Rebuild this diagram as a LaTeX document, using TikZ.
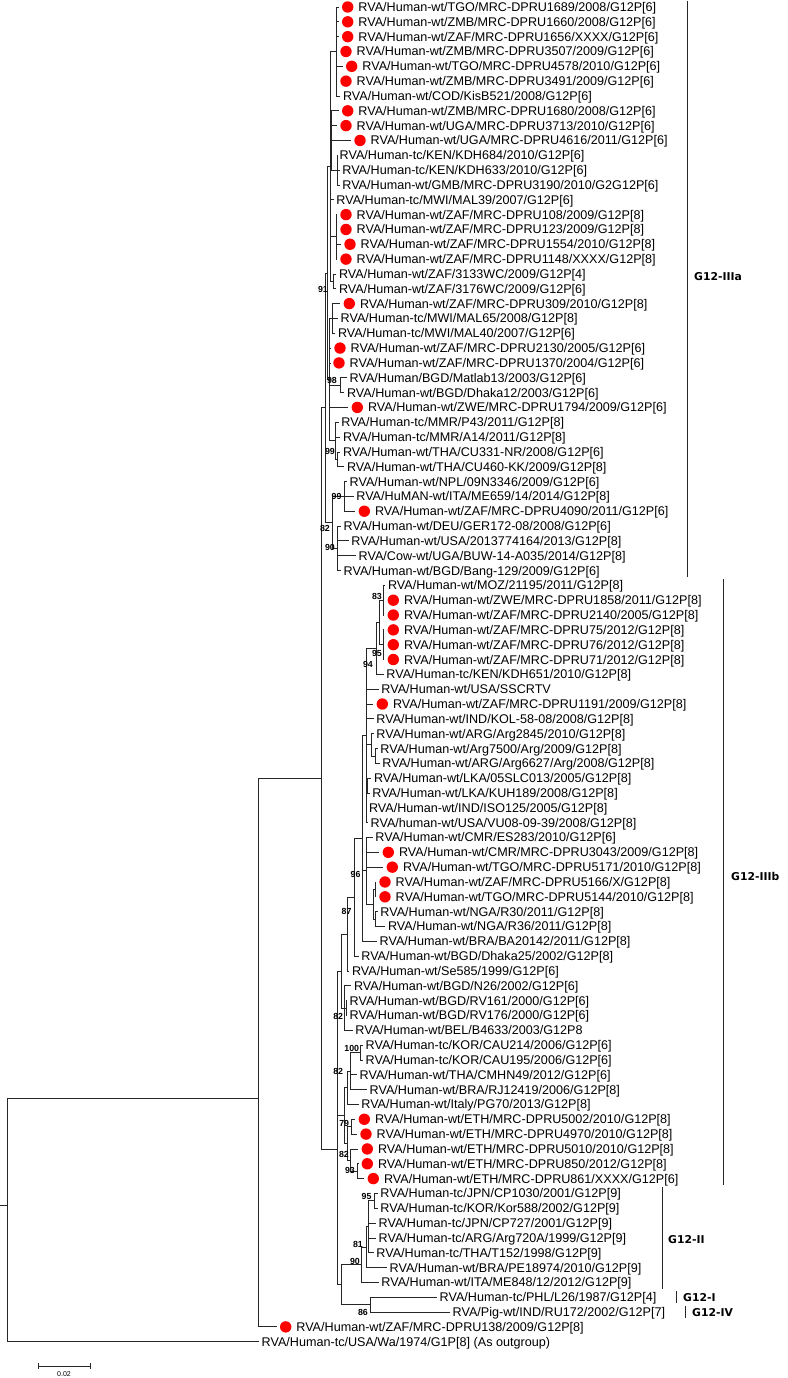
\documentclass[tikz,border=0pt]{standalone}
\usepackage{fontspec}
\newfontfamily\lsans{Liberation Sans}
\newfontfamily\dvsans{DejaVu Sans}
\newcommand\Lf[3]{\coordinate (l#1) at (#2,#1); \node[leaf] (t#1) at ([xshift=2.5pt]l#1) {#3};}
\newcommand\Ld[3]{\coordinate (l#1) at (#2,#1); \node[rdot] (d#1) at ([xshift=9pt]l#1) {}; \node[leaf] (t#1) at ([xshift=19.5pt]l#1) {#3};}
\newcommand\Br[2]{\foreach \ch in {#2}{\draw[br] (#1) |- (\ch);}}
\newcommand\Bt[4]{\node[boot] (#1) at (#2,#3) {#4};}
\begin{document}
\begin{tikzpicture}[x=1pt,y=-14.83pt,
  br/.style={line width=0.8pt,black!85},
  leaf/.style={anchor=base west,inner sep=0pt,yshift=-4.5pt,font=\fontsize{12.6}{14}\selectfont\lsans},
  rdot/.style={circle,fill=red,inner sep=0pt,minimum size=11.4pt},
  boot/.style={anchor=east,inner sep=0pt,font=\fontsize{8.8}{10}\selectfont\lsans\bfseries},
  clade/.style={anchor=west,inner sep=0pt,font=\fontsize{10.8}{12}\selectfont\dvsans\bfseries},
  cbar/.style={line width=0.9pt,black!85}]
\fill[white] (0,0.528) rectangle (787,93.447);
\useasboundingbox (0,0.528) rectangle (787,93.447);
% leaves
\Ld{1}{338.7}{RVA/Human-wt/TGO/MRC-DPRU1689/2008/G12P[6]}
\Ld{2}{338.7}{RVA/Human-wt/ZMB/MRC-DPRU1660/2008/G12P[6]}
\Ld{3}{338.7}{RVA/Human-wt/ZAF/MRC-DPRU1656/XXXX/G12P[6]}
\Ld{4}{337}{RVA/Human-wt/ZMB/MRC-DPRU3507/2009/G12P[6]}
\Ld{5}{342.7}{RVA/Human-wt/TGO/MRC-DPRU4578/2010/G12P[6]}
\Ld{6}{337}{RVA/Human-wt/ZMB/MRC-DPRU3491/2009/G12P[6]}
\Lf{7}{340.3}{RVA/Human-wt/COD/KisB521/2008/G12P[6]}
\Ld{8}{338.7}{RVA/Human-wt/ZMB/MRC-DPRU1680/2008/G12P[6]}
\Ld{9}{337}{RVA/Human-wt/UGA/MRC-DPRU3713/2010/G12P[6]}
\Ld{10}{351}{RVA/Human-wt/UGA/MRC-DPRU4616/2011/G12P[6]}
\Lf{11}{337}{RVA/Human-tc/KEN/KDH684/2010/G12P[6]}
\Lf{12}{339.7}{RVA/Human-tc/KEN/KDH633/2010/G12P[6]}
\Lf{13}{339.7}{RVA/Human-wt/GMB/MRC-DPRU3190/2010/G2G12P[6]}
\Lf{14}{333.7}{RVA/Human-tc/MWI/MAL39/2007/G12P[6]}
\Ld{15}{337}{RVA/Human-wt/ZAF/MRC-DPRU108/2009/G12P[8]}
\Ld{16}{337}{RVA/Human-wt/ZAF/MRC-DPRU123/2009/G12P[8]}
\Ld{17}{341}{RVA/Human-wt/ZAF/MRC-DPRU1554/2010/G12P[8]}
\Ld{18}{337}{RVA/Human-wt/ZAF/MRC-DPRU1148/XXXX/G12P[8]}
\Lf{19}{336.3}{RVA/Human-wt/ZAF/3133WC/2009/G12P[4]}
\Lf{20}{336.3}{RVA/Human-wt/ZAF/3176WC/2009/G12P[6]}
\Ld{21}{340.3}{RVA/Human-wt/ZAF/MRC-DPRU309/2010/G12P[8]}
\Lf{22}{338}{RVA/Human-tc/MWI/MAL65/2008/G12P[8]}
\Lf{23}{335.3}{RVA/Human-tc/MWI/MAL40/2007/G12P[6]}
\Ld{24}{331}{RVA/Human-wt/ZAF/MRC-DPRU2130/2005/G12P[6]}
\Ld{25}{330}{RVA/Human-wt/ZAF/MRC-DPRU1370/2004/G12P[6]}
\Lf{26}{347}{RVA/Human/BGD/Matlab13/2003/G12P[6]}
\Lf{27}{344.3}{RVA/Human-wt/BGD/Dhaka12/2003/G12P[6]}
\Ld{28}{348.3}{RVA/Human-wt/ZWE/MRC-DPRU1794/2009/G12P[6]}
\Lf{29}{338.7}{RVA/Human-tc/MMR/P43/2011/G12P[8]}
\Lf{30}{340.3}{RVA/Human-tc/MMR/A14/2011/G12P[8]}
\Lf{31}{340.3}{RVA/Human-wt/THA/CU331-NR/2008/G12P[6]}
\Lf{32}{344.3}{RVA/Human-wt/THA/CU460-KK/2009/G12P[8]}
\Lf{33}{347}{RVA/Human-wt/NPL/09N3346/2009/G12P[6]}
\Lf{34}{353.7}{RVA/HuMAN-wt/ITA/ME659/14/2014/G12P[8]}
\Ld{35}{355.3}{RVA/Human-wt/ZAF/MRC-DPRU4090/2011/G12P[6]}
\Lf{36}{341}{RVA/Human-wt/DEU/GER172-08/2008/G12P[6]}
\Lf{37}{348.7}{RVA/Human-wt/USA/2013774164/2013/G12P[8]}
\Lf{38}{356}{RVA/Cow-wt/UGA/BUW-14-A035/2014/G12P[8]}
\Lf{39}{341}{RVA/Human-wt/BGD/Bang-129/2009/G12P[6]}
\Lf{40}{385.3}{RVA/Human-wt/MOZ/21195/2011/G12P[8]}
\Ld{41}{384.3}{RVA/Human-wt/ZWE/MRC-DPRU1858/2011/G12P[8]}
\Ld{42}{384.3}{RVA/Human-wt/ZAF/MRC-DPRU2140/2005/G12P[8]}
\Ld{43}{384.3}{RVA/Human-wt/ZAF/MRC-DPRU75/2012/G12P[8]}
\Ld{44}{384.3}{RVA/Human-wt/ZAF/MRC-DPRU76/2012/G12P[8]}
\Ld{45}{384.3}{RVA/Human-wt/ZAF/MRC-DPRU71/2012/G12P[8]}
\Lf{46}{383.7}{RVA/Human-tc/KEN/KDH651/2010/G12P[8]}
\Lf{47}{378.7}{RVA/Human-wt/USA/SSCRTV}
\Ld{48}{373.3}{RVA/Human-wt/ZAF/MRC-DPRU1191/2009/G12P[8]}
\Lf{49}{373.7}{RVA/Human-wt/IND/KOL-58-08/2008/G12P[8]}
\Lf{50}{373.7}{RVA/Human-wt/ARG/Arg2845/2010/G12P[8]}
\Lf{51}{377.7}{RVA/Human-wt/Arg7500/Arg/2009/G12P[8]}
\Lf{52}{379.7}{RVA/Human-wt/ARG/Arg6627/Arg/2008/G12P[8]}
\Lf{53}{371.3}{RVA/Human-wt/LKA/05SLC013/2005/G12P[8]}
\Lf{54}{369.7}{RVA/Human-wt/LKA/KUH189/2008/G12P[8]}
\Lf{55}{366.3}{RVA/Human-wt/IND/ISO125/2005/G12P[8]}
\Lf{56}{368}{RVA/human-wt/USA/VU08-09-39/2008/G12P[8]}
\Lf{57}{372.7}{RVA/Human-wt/CMR/ES283/2010/G12P[6]}
\Ld{58}{379.3}{RVA/Human-wt/CMR/MRC-DPRU3043/2009/G12P[8]}
\Ld{59}{383.3}{RVA/Human-wt/TGO/MRC-DPRU5171/2010/G12P[8]}
\Ld{60}{376}{RVA/Human-wt/ZAF/MRC-DPRU5166/X/G12P[8]}
\Ld{61}{376}{RVA/Human-wt/TGO/MRC-DPRU5144/2010/G12P[8]}
\Lf{62}{377.7}{RVA/Human-wt/NGA/R30/2011/G12P[8]}
\Lf{63}{385.3}{RVA/Human-wt/NGA/R36/2011/G12P[8]}
\Lf{64}{377}{RVA/Human-wt/BRA/BA20142/2011/G12P[8]}
\Lf{65}{358.7}{RVA/Human-wt/BGD/Dhaka25/2002/G12P[8]}
\Lf{66}{349.3}{RVA/Human-wt/Se585/1999/G12P[6]}
\Lf{67}{351.3}{RVA/Human-wt/BGD/N26/2002/G12P[6]}
\Lf{68}{347}{RVA/Human-wt/BGD/RV161/2000/G12P[6]}
\Lf{69}{347}{RVA/Human-wt/BGD/RV176/2000/G12P[6]}
\Lf{70}{352.7}{RVA/Human-wt/BEL/B4633/2003/G12P8}
\Lf{71}{363}{RVA/Human-tc/KOR/CAU214/2006/G12P[6]}
\Lf{72}{363}{RVA/Human-tc/KOR/CAU195/2006/G12P[6]}
\Lf{73}{357}{RVA/Human-wt/THA/CMHN49/2012/G12P[6]}
\Lf{74}{367}{RVA/Human-wt/BRA/RJ12419/2006/G12P[8]}
\Lf{75}{358.7}{RVA/Human-wt/Italy/PG70/2013/G12P[8]}
\Ld{76}{355.3}{RVA/Human-wt/ETH/MRC-DPRU5002/2010/G12P[8]}
\Ld{77}{357}{RVA/Human-wt/ETH/MRC-DPRU4970/2010/G12P[8]}
\Ld{78}{358.3}{RVA/Human-wt/ETH/MRC-DPRU5010/2010/G12P[8]}
\Ld{79}{358.3}{RVA/Human-wt/ETH/MRC-DPRU850/2012/G12P[8]}
\Ld{80}{364.3}{RVA/Human-wt/ETH/MRC-DPRU861/XXXX/G12P[6]}
\Lf{81}{377.7}{RVA/Human-tc/JPN/CP1030/2001/G12P[9]}
\Lf{82}{377.7}{RVA/Human-tc/KOR/Kor588/2002/G12P[9]}
\Lf{83}{376}{RVA/Human-tc/JPN/CP727/2001/G12P[9]}
\Lf{84}{376}{RVA/Human-tc/ARG/Arg720A/1999/G12P[9]}
\Lf{85}{373.7}{RVA/Human-tc/THA/T152/1998/G12P[9]}
\Lf{86}{387}{RVA/Human-wt/BRA/PE18974/2010/G12P[9]}
\Lf{87}{378.7}{RVA/Human-wt/ITA/ME848/12/2012/G12P[9]}
\Lf{88}{437}{RVA/Human-tc/PHL/L26/1987/G12P[4]}
\Lf{89}{450}{RVA/Pig-wt/IND/RU172/2002/G12P[7]}
\Ld{90}{276.7}{RVA/Human-wt/ZAF/MRC-DPRU138/2009/G12P[8]}
\Lf{91}{259}{RVA/Human-tc/USA/Wa/1974/G1P[8] (As outgroup)}
% internal nodes G12-IIIa
\coordinate (nP) at (336,4);
\coordinate (nQ1) at (337,12);
\coordinate (nQ) at (331,10);
\coordinate (nR) at (336,16.5);
\coordinate (nS) at (333,19.5);
\coordinate (nX1) at (330,11.75);
\coordinate (nT) at (332,22);
\coordinate (nV) at (340,26.5);
\coordinate (nW2) at (337,31.5);
\coordinate (nW) at (335,30.25);
\coordinate (nX2) at (329.5,26.125);
\coordinate (nU) at (327.5,18.9375);
\coordinate (n99) at (344,34);
\coordinate (n90) at (337,37.5);
\coordinate (n82) at (332,35.75);
\coordinate (nCa) at (325,28);
% G12-IIIb
\coordinate (b83) at (383,41);
\coordinate (b95) at (383,44);
\coordinate (bA) at (379,42.5);
\coordinate (b94) at (376,44.25);
\coordinate (bArg2) at (375,51.5);
\coordinate (bArg) at (371.7,50.75);
\coordinate (b5354) at (367,53.5);
\coordinate (bP1) at (366,50.125);
\coordinate (b6061) at (375,60.5);
\coordinate (b6263) at (375,62.5);
\coordinate (bS) at (373,61.5);
\coordinate (b96) at (366,59.25);
\coordinate (bU) at (362.7,57.06);
\coordinate (b87) at (354.3,61.03);
\coordinate (bV) at (347.3,63.52);
\coordinate (bRV) at (346,68.5);
\coordinate (bBEL) at (344,68.5);
\coordinate (bF1) at (341.7,66.01);
\coordinate (b100) at (360,71.5);
\coordinate (b82b) at (350,72.75);
\coordinate (bPG) at (347.3,73.875);
\coordinate (b79) at (351.7,76.5);
\coordinate (b93) at (357.7,79.5);
\coordinate (b82c) at (350,78.75);
\coordinate (bETH) at (347,77.625);
\coordinate (bF2) at (344,75.75);
% G12-II, I, IV
\coordinate (e95) at (374.3,81.5);
\coordinate (ea) at (368.3,83.25);
\coordinate (e81) at (366.7,84.625);
\coordinate (e90) at (361.7,85.81);
\coordinate (e86) at (370,88.5);
\coordinate (nE) at (341.7,87.16);
\coordinate (nD) at (337.3,78);
\coordinate (nB) at (321,53);
\coordinate (nA) at (258,74.6);
\coordinate (rt) at (7.3,81.8);
\coordinate (rs) at (0,81.8);
% branches
\Br{nP}{l1,l2,l3,l4,l5,l6,l7}
\Br{nQ1}{l11,l12,l13}
\Br{nQ}{l8,l9,l10,nQ1}
\Br{nR}{l15,l16,l17,l18}
\Br{nS}{l19,l20}
\Br{nX1}{nP,nQ,l14,nR,nS}
\Br{nT}{l21,l22,l23}
\Br{nV}{l26,l27}
\Br{nW2}{l31,l32}
\Br{nW}{l29,l30,nW2}
\Br{nX2}{nT,l24,l25,nV,l28,nW}
\Br{nU}{nX1,nX2}
\Br{n99}{l33,l34,l35}
\Br{n90}{l36,l37,l38,l39}
\Br{n82}{n99,n90}
\Br{nCa}{nU,n82}
\Br{b83}{l40,l41,l42}
\Br{b95}{l43,l44,l45}
\Br{bA}{b83,b95}
\Br{b94}{bA,l46}
\Br{bArg2}{l51,l52}
\Br{bArg}{l50,bArg2}
\Br{b5354}{l53,l54}
\Br{bP1}{b94,l47,l48,l49,bArg,b5354,l55,l56}
\Br{b6061}{l60,l61}
\Br{b6263}{l62,l63}
\Br{bS}{b6061,b6263}
\Br{b96}{l57,l58,l59,bS}
\Br{bU}{bP1,b96,l64}
\Br{b87}{bU,l65}
\Br{bV}{b87,l66}
\Br{bRV}{l68,l69}
\Br{bBEL}{l67,bRV,l70}
\Br{bF1}{bV,bBEL}
\Br{b100}{l71,l72}
\Br{b82b}{b100,l73,l74}
\Br{bPG}{b82b,l75}
\Br{b79}{l76,l77}
\Br{b93}{l79,l80}
\Br{b82c}{l78,b93}
\Br{bETH}{b79,b82c}
\Br{bF2}{bPG,bETH}
\Br{e95}{l81,l82}
\Br{ea}{e95,l83,l84,l85}
\Br{e81}{ea,l86}
\Br{e90}{e81,l87}
\Br{e86}{l88,l89}
\Br{nE}{e90,e86}
\Br{nD}{bF1,bF2,nE}
\Br{nB}{nCa,nD}
\Br{nA}{nB,l90}
\Br{rt}{nA,l91}
\draw[br] (rs) -- (rt);
% bootstrap values
\Bt{s91}{328}{20.08}{91}
\Bt{s98}{337}{26.15}{98}
\Bt{s99a}{335}{31.0}{99}
\Bt{s99b}{341.7}{34.02}{99}
\Bt{s82a}{330}{36.13}{82}
\Bt{s90a}{335}{37.41}{90}
\Bt{s83}{382}{40.72}{83}
\Bt{s95a}{382}{44.56}{95}
\Bt{s94}{373}{45.30}{94}
\Bt{s96}{360.7}{59.46}{96}
\Bt{s87}{351.7}{62.02}{87}
\Bt{s82b}{343.3}{69.09}{82}
\Bt{s100}{359.3}{71.2}{100}
\Bt{s82c}{343.3}{72.75}{82}
\Bt{s79}{349.3}{76.25}{79}
\Bt{s82d}{349}{78.34}{82}
\Bt{s93}{355}{79.47}{93}
\Bt{s95b}{371.7}{81.22}{95}
\Bt{s81}{363}{84.41}{81}
\Bt{s90b}{360}{85.56}{90}
\Bt{s86}{368}{89.0}{86}
% clade bars
\coordinate (ca1) at (687.7,0.6); \coordinate (ca2) at (687.7,39.45);
\draw[cbar] (ca1) -- (ca2);
\node[clade] (cla) at (694,19.2) {G12-IIIa};
\coordinate (cb1) at (723.3,39.6); \coordinate (cb2) at (723.3,80.45);
\draw[cbar] (cb1) -- (cb2);
\node[clade] (clb) at (731,59.6) {G12-IIIb};
\coordinate (cc1) at (662.3,80.6); \coordinate (cc2) at (662.3,87.45);
\draw[cbar] (cc1) -- (cc2);
\node[clade] (clc) at (668,84.1) {G12-II};
\coordinate (cd1) at (676,87.6); \coordinate (cd2) at (676,88.4);
\draw[cbar] (cd1) -- (cd2);
\node[clade] (cld) at (683,88) {G12-I};
\coordinate (ce1) at (685,88.6); \coordinate (ce2) at (685,89.4);
\draw[cbar] (ce1) -- (ce2);
\node[clade] (cle) at (692,89.05) {G12-IV};
% scale bar
\coordinate (sbL) at (38,92.64); \coordinate (sbR) at (90,92.64);
\draw[br] (sbL) -- (sbR);
\draw[br] ([yshift=3pt]sbL) -- ([yshift=-3pt]sbL);
\draw[br] ([yshift=3pt]sbR) -- ([yshift=-3pt]sbR);
\node[inner sep=0pt,font=\fontsize{7}{8}\selectfont\lsans] (sbt) at (64,93.15) {0.02};
\end{tikzpicture}
\end{document}
